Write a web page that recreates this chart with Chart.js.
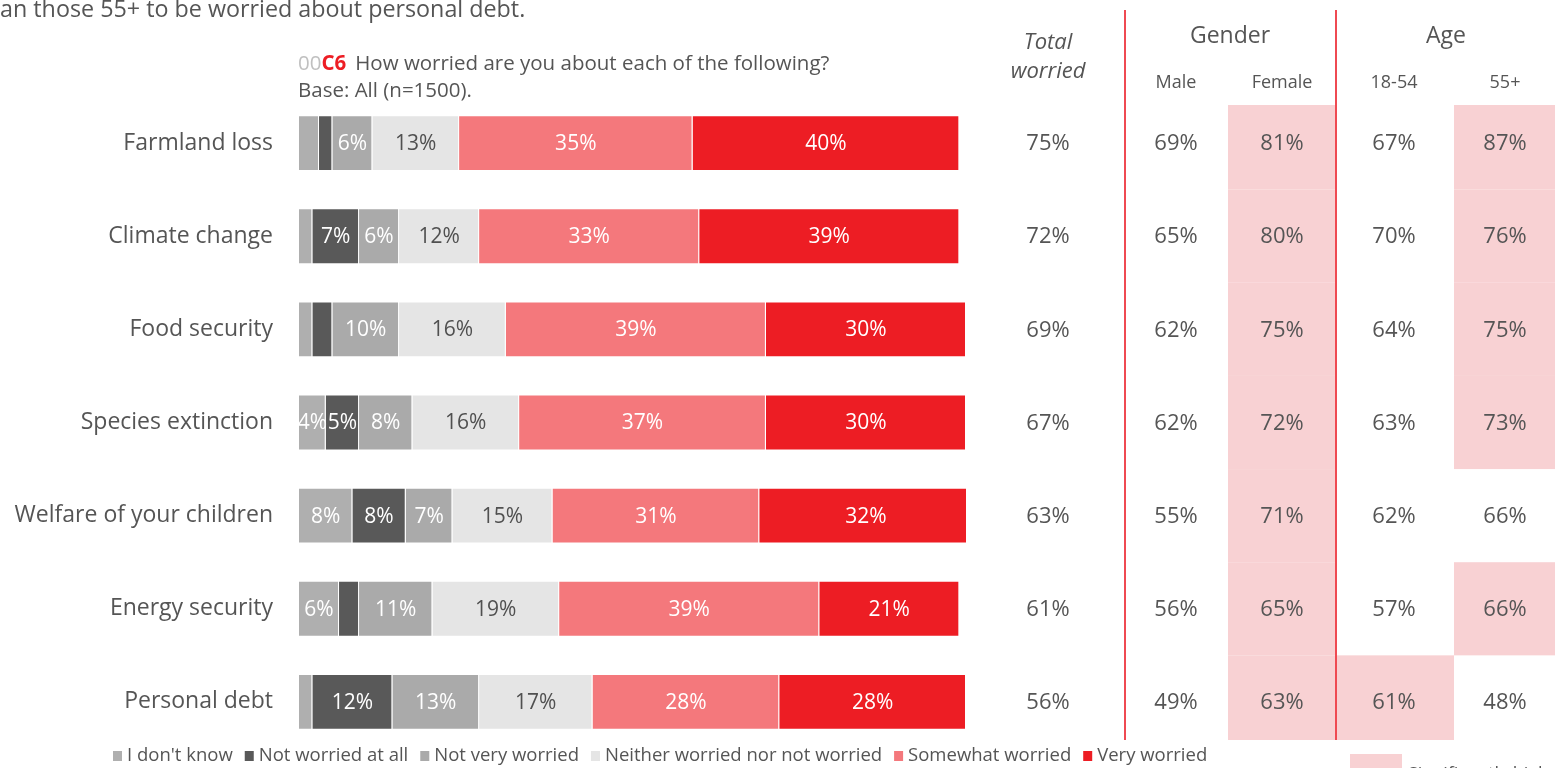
<!DOCTYPE html>
<html>
<head>
<meta charset="utf-8">
<script src="https://cdn.jsdelivr.net/npm/chart.js@4.4.1/dist/chart.umd.min.js"></script>
<style>
  body { margin: 0; background: #fff; }
  #wrap { position: relative; width: 1555px; height: 768px; overflow: hidden; }
</style>
</head>
<body>
<div id="wrap"><canvas id="worryChart"></canvas></div>
<script>
const topics = ['Farmland loss', 'Climate change', 'Food security', 'Species extinction', 'Welfare of your children', 'Energy security', 'Personal debt'];
const responses = ["I don't know", 'Not worried at all', 'Not very worried', 'Neither worried nor not worried', 'Somewhat worried', 'Very worried'];
const dontKnow = [3, 2, 2, 4, 8, 6, 2];
const notAtAll = [2, 7, 3, 5, 8, 3, 12];
const notVery = [6, 6, 10, 8, 7, 11, 13];
const neither = [13, 12, 16, 16, 15, 19, 17];
const somewhat = [35, 33, 39, 37, 31, 39, 28];
const very = [40, 39, 30, 30, 32, 21, 28];

// worried (somewhat + very) by group
const totalWorried = [75, 72, 69, 67, 63, 61, 56];
const male = [69, 65, 62, 62, 55, 56, 49];
const female = [81, 80, 75, 72, 71, 65, 63];
const age1854 = [67, 70, 64, 63, 62, 57, 61];
const age55 = [87, 76, 75, 73, 66, 66, 48];
// 1 = significantly higher than the other group
const femaleHigh = [1, 1, 1, 1, 1, 1, 1];
const age1854High = [0, 0, 0, 0, 0, 0, 1];
const age55High = [1, 1, 1, 1, 0, 1, 0];

const colors = ['#afafaf', '#595959', '#aaaaaa', '#e5e5e5', '#f4787c', '#ed1d24'];
const labelColors = ['#fff', '#fff', '#fff', '#505050', '#fff', '#fff'];
const seriesValues = [dontKnow, notAtAll, notVery, neither, somewhat, very];

const FONT = '"Open Sans", Lato, sans-serif';
const TEXT = '#555555';
const PINK = '#f8d1d3';

function txt(ctx, s, x, y, size, opts = {}) {
  ctx.font = `${opts.style || 'normal'} ${opts.weight || 400} ${size}px ${FONT}`;
  ctx.fillStyle = opts.color || TEXT;
  ctx.textAlign = opts.align || 'center';
  ctx.textBaseline = 'middle';
  ctx.fillText(s, x, y);
}

const tablePlugin = {
  id: 'worryTable',
  afterDraw(chart) {
    const ctx = chart.ctx;
    const y = chart.scales.y;
    const step = y.getPixelForValue(1) - y.getPixelForValue(0);
    const top = 105, bottom = 740;
    ctx.save();

    // highlighted cells
    const cols = [
      { x0: 1228, x1: 1336, flags: femaleHigh },
      { x0: 1336, x1: 1454, flags: age1854High },
      { x0: 1454, x1: 1555, flags: age55High }
    ];
    ctx.fillStyle = PINK;
    cols.forEach(c => {
      c.flags.forEach((f, i) => {
        if (!f) return;
        const cy = y.getPixelForValue(i);
        const y0 = Math.max(top, cy - step / 2);
        const y1 = Math.min(bottom, cy + step / 2);
        ctx.fillRect(c.x0, y0, c.x1 - c.x0, y1 - y0);
      });
    });

    // group dividers
    ctx.strokeStyle = '#ef4a52';
    ctx.lineWidth = 2;
    [1125, 1336].forEach(x => {
      ctx.beginPath();
      ctx.moveTo(x, 10);
      ctx.lineTo(x, bottom);
      ctx.stroke();
    });

    // headers
    txt(ctx, 'Total', 1048, 43, 22, { style: 'italic' });
    txt(ctx, 'worried', 1048, 72, 22, { style: 'italic' });
    txt(ctx, 'Gender', 1230, 36, 23);
    txt(ctx, 'Age', 1446, 36, 23);
    txt(ctx, 'Male', 1176, 83, 18);
    txt(ctx, 'Female', 1282, 83, 18);
    txt(ctx, '18-54', 1394, 83, 18);
    txt(ctx, '55+', 1505, 83, 18);

    // values
    const valueCols = [[1048, totalWorried], [1176, male], [1282, female], [1394, age1854], [1505, age55]];
    valueCols.forEach(([x, arr]) => {
      arr.forEach((v, i) => txt(ctx, v + '%', x, y.getPixelForValue(i) + 1, 22));
    });

    // segment labels
    chart.data.datasets.forEach((ds, di) => {
      const meta = chart.getDatasetMeta(di);
      meta.data.forEach((bar, i) => {
        const v = ds.data[i];
        if (v < 4) return;
        txt(ctx, v + '%', (bar.x + bar.base) / 2, bar.y + 1, 21, { color: labelColors[di] });
      });
    });

    // legend
    let lx = 113;
    const ly = 756;
    chart.data.datasets.forEach((ds, di) => {
      ctx.fillStyle = ds.backgroundColor;
      ctx.fillRect(lx, ly - 5, 9, 10);
      lx += 14;
      txt(ctx, ds.label, lx, ly, 18.5, { align: 'left' });
      lx += ctx.measureText(ds.label).width + 12;
    });

    // significance key
    ctx.fillStyle = PINK;
    ctx.fillRect(1350, 754, 52, 20);
    txt(ctx, 'Significantly higher', 1408, 775, 18, { align: 'left' });

    // intro and question text
    txt(ctx, 'an those 55+ to be worried about personal debt.', 0, 10, 23.3, { align: 'left' });
    txt(ctx, '00', 298, 64, 20.5, { align: 'left', color: '#c0c0c0' });
    const w00 = ctx.measureText('00').width;
    txt(ctx, 'C6', 298 + w00, 64, 20.5, { align: 'left', color: '#ed1d24', weight: 700 });
    const wc6 = ctx.measureText('C6').width;
    txt(ctx, 'How worried are you about each of the following?', 298 + w00 + wc6 + 9, 64, 20.5, { align: 'left' });
    txt(ctx, 'Base: All (n=1500).', 298, 91, 20.5, { align: 'left' });

    ctx.restore();
  }
};

new Chart(document.getElementById('worryChart'), {
  type: 'bar',
  data: {
    labels: topics,
    datasets: responses.map((r, i) => ({
      label: r,
      data: seriesValues[i],
      backgroundColor: colors[i],
      borderColor: '#ffffff',
      borderWidth: 1,
      barPercentage: 0.6,
      categoryPercentage: 1
    }))
  },
  options: {
    indexAxis: 'y',
    responsive: true,
    maintainAspectRatio: false,
    animation: false,
    layout: { padding: { top: 96.5, bottom: 19.5, left: 0, right: 589 } },
    plugins: {
      legend: { display: false },
      tooltip: { enabled: false }
    },
    scales: {
      x: { stacked: true, min: 0, max: 100, display: false },
      y: {
        stacked: true,
        grid: { display: false, drawTicks: false },
        border: { display: false },
        ticks: {
          padding: 26,
          color: TEXT,
          font: { family: FONT, size: 23, weight: 400 }
        },
        afterFit(scale) {
          scale.width = 299;
          scale.paddingTop = 0;
          scale.paddingBottom = 0;
        }
      }
    }
  },
  plugins: [tablePlugin]
});
</script>
</body>
</html>
